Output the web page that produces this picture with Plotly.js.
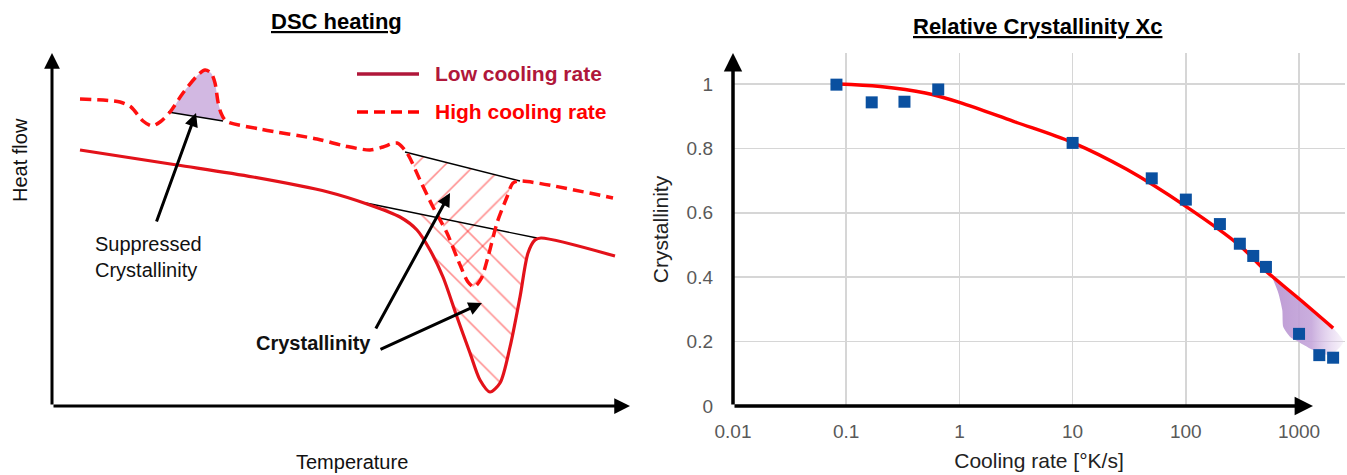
<!DOCTYPE html>
<html>
<head>
<meta charset="utf-8">
<script src="https://cdn.plot.ly/plotly-3.0.1.min.js"></script>
<style>html,body{margin:0;padding:0;background:#fff}#chart{width:1347px;height:475px}</style>
</head>
<body>
<div id="chart"></div>
<script>
// ---------- Left panel: DSC heating (schematic, arbitrary units) ----------
const lowRateT  = [28,125,201,276,315,348,365,378,391,405,418,428,438,448,458,468,476,483,489,563];
const lowRateHF = [256,241,229,214,202,189,176,156,129,89,53,26,14,23,59,109,153,166,168,150];

const highRateT  = [28,68,79,91,100,108,118,131,145,153,159,163,166,169,174,208,265,293,318,331,345,355,368,381,395,406,416,422,429,436,445,455,461,468,561];
const highRateHF = [307,304,299,285,280,284,294,313,330,336,333,323,304,293,285,277,267,260,256,259,263,253,226,199,173,146,124,119,127,149,183,209,223,225,208];

// baselines of the peaks (start, end)
const peakBaseT = [116,171],  peakBaseHF = [294,285];
const highBaseT = [353,468],  highBaseHF = [254,225];
const lowBaseT  = [314,485],  lowBaseHF  = [203,168];

// annotation arrows (tail -> tip)
const arrowTailT  = [104,323,327], arrowTailHF = [183,76,56];
const arrowTipT   = [144,398,430], arrowTipHF  = [293,213,103];

const seriesNames = ['Low cooling rate','High cooling rate'];

// ---------- Right panel: Relative crystallinity ----------
const coolingRate   = [0.082,0.168,0.327,0.65,10,50,100,200,300,394,510,1000,1510,2000];
const crystallinity = [0.998,0.943,0.945,0.983,0.817,0.707,0.641,0.565,0.504,0.466,0.432,0.224,0.158,0.150];

const fitRate = [0.085,0.2,0.5,1,3,10,30,100,300,500,1000,2000];
const fitXc   = [1.0,0.992,0.972,0.943,0.884,0.818,0.735,0.62,0.498,0.422,0.333,0.242];

const shadeRate = [581,656,711,726,837,1026,1336,1890,2460,2000,1400,1000,800];
const shadeXc   = [0.398,0.351,0.298,0.245,0.214,0.196,0.174,0.158,0.199,0.242,0.29,0.333,0.36];

const xTickVals = [0.01,0.1,1,10,100,1000];
const xTickText = ['0.01','0.1','1','10','100','1000'];
const yTickVals = [0,0.2,0.4,0.6,0.8,1];
const yTickText = ['0','0.2','0.4','0.6','0.8','1'];

// ---------- build ----------
function region(T, HF, bT, bHF){
  const xs=[bT[0]], ys=[bHF[0]];
  for(let i=0;i<T.length;i++){ if(T[i]>bT[0] && T[i]<bT[1]){ xs.push(T[i]); ys.push(HF[i]); } }
  xs.push(bT[1]); ys.push(bHF[1]);
  return {xs, ys};
}
const peakReg = region(highRateT, highRateHF, peakBaseT, peakBaseHF);
const highReg = region(highRateT, highRateHF, highBaseT, highBaseHF);
const lowReg  = region(lowRateT,  lowRateHF,  lowBaseT,  lowBaseHF);

const SOLID = '#e3121a', DASHED = '#ff1010';
const FONT = 'Liberation Sans, Arial, sans-serif';
const HATCH = {fgcolor:'#ff1c1c', bgcolor:'rgba(0,0,0,0)', size:21, solidity:0.075, fillmode:'overlay'};

const traces = [
  {x:peakReg.xs, y:peakReg.ys, type:'scatter', mode:'lines', fill:'toself', fillcolor:'#d2b8e2',
   line:{width:0, shape:'spline', smoothing:0.8}, hoverinfo:'skip', xaxis:'x', yaxis:'y'},
  {x:highReg.xs, y:highReg.ys, type:'scatter', mode:'lines', fill:'toself', fillcolor:'rgba(0,0,0,0)',
   fillpattern:Object.assign({shape:'/'}, HATCH),
   line:{width:0, shape:'spline', smoothing:0.8}, hoverinfo:'skip', xaxis:'x', yaxis:'y'},
  {x:lowReg.xs, y:lowReg.ys, type:'scatter', mode:'lines', fill:'toself', fillcolor:'rgba(0,0,0,0)',
   fillpattern:Object.assign({shape:'\\'}, HATCH),
   line:{width:0, shape:'spline', smoothing:0.8}, hoverinfo:'skip', xaxis:'x', yaxis:'y'},
  {x:peakBaseT, y:peakBaseHF, type:'scatter', mode:'lines', line:{color:'#000', width:1.3}, xaxis:'x', yaxis:'y'},
  {x:highBaseT, y:highBaseHF, type:'scatter', mode:'lines', line:{color:'#000', width:1.3}, xaxis:'x', yaxis:'y'},
  {x:lowBaseT,  y:lowBaseHF,  type:'scatter', mode:'lines', line:{color:'#000', width:1.3}, xaxis:'x', yaxis:'y'},
  {name:seriesNames[0], x:lowRateT, y:lowRateHF, type:'scatter', mode:'lines',
   line:{color:SOLID, width:3.2, shape:'spline', smoothing:0.8}, xaxis:'x', yaxis:'y'},
  {name:seriesNames[1], x:highRateT, y:highRateHF, type:'scatter', mode:'lines',
   line:{color:DASHED, width:3.5, dash:'11px,6px', shape:'spline', smoothing:0.8}, xaxis:'x', yaxis:'y'},

  // right panel
  {x:shadeRate, y:shadeXc, type:'scatter', mode:'lines', fill:'toself',
   fillgradient:{type:'horizontal', colorscale:[[0,'rgba(186,150,210,0.95)'],[0.55,'rgba(196,165,218,0.9)'],[1,'rgba(225,205,238,0.25)']]},
   line:{width:0, shape:'spline', smoothing:0.6}, hoverinfo:'skip', xaxis:'x2', yaxis:'y2'},
  {name:'Fit', x:fitRate, y:fitXc, type:'scatter', mode:'lines',
   line:{color:'#ff0000', width:3.5, shape:'spline', smoothing:1}, xaxis:'x2', yaxis:'y2'},
  {name:'Measured', x:coolingRate, y:crystallinity, type:'scatter', mode:'markers',
   marker:{symbol:'square', size:12, color:'#0a50a0'}, cliponaxis:false, xaxis:'x2', yaxis:'y2'}
];

const axisArrow = (x, y, ax, ay, xr, yr, w) => ({
  x, y, ax, ay, xref:xr, yref:yr, axref:xr, ayref:yr, text:'', showarrow:true,
  arrowhead:2, arrowsize:1.05, arrowwidth:w, arrowcolor:'#000', standoff:0, startstandoff:0
});

const annotations = [];
// axis arrows
annotations.push(axisArrow(0,1,0,0,'x domain','y domain',3));
annotations.push(axisArrow(1,0,0,0,'x domain','y domain',3));
annotations.push(axisArrow(0,1,0,0,'x2 domain','y2 domain',3.5));
annotations.push(axisArrow(0.9477,0,0,0,'x2 domain','y2 domain',3.5));
// pointer arrows
for(let i=0;i<arrowTipT.length;i++){
  annotations.push({x:arrowTipT[i], y:arrowTipHF[i], ax:arrowTailT[i], ay:arrowTailHF[i],
    xref:'x', yref:'y', axref:'x', ayref:'y', text:'', showarrow:true,
    arrowhead:2, arrowsize:0.9, arrowwidth:3, arrowcolor:'#000', standoff:0, startstandoff:0});
}
// texts
annotations.push({text:'<b><u>DSC heating</u></b>', x:336/1347, y:1-22/475, xref:'paper', yref:'paper',
  showarrow:false, xanchor:'center', yanchor:'middle', font:{family:FONT, size:22, color:'#000'}});
annotations.push({text:'<b><u>Relative Crystallinity Xc</u></b>', x:1037/1347, y:1-26/475, xref:'paper', yref:'paper',
  showarrow:false, xanchor:'center', yanchor:'middle', font:{family:FONT, size:22, color:'#000'}});
annotations.push({text:'Heat flow', x:20/1347, y:1-160/475, xref:'paper', yref:'paper', textangle:-90,
  showarrow:false, xanchor:'center', yanchor:'middle', font:{family:FONT, size:20, color:'#111'}});
annotations.push({text:'Temperature', x:352/1347, y:1-462/475, xref:'paper', yref:'paper',
  showarrow:false, xanchor:'center', yanchor:'middle', font:{family:FONT, size:20, color:'#111'}});
annotations.push({text:'Suppressed<br>Crystallinity', x:41, y:149, xref:'x', yref:'y', align:'left',
  showarrow:false, xanchor:'left', yanchor:'middle', font:{family:FONT, size:20, color:'#111'}});
annotations.push({text:'<b>Crystallinity</b>', x:202, y:63, xref:'x', yref:'y',
  showarrow:false, xanchor:'left', yanchor:'middle', font:{family:FONT, size:20, color:'#111'}});
annotations.push({text:'<b>'+seriesNames[0]+'</b>', x:381, y:332, xref:'x', yref:'y',
  showarrow:false, xanchor:'left', yanchor:'middle', font:{family:FONT, size:21, color:'#b0173a'}});
annotations.push({text:'<b>'+seriesNames[1]+'</b>', x:381, y:294, xref:'x', yref:'y',
  showarrow:false, xanchor:'left', yanchor:'middle', font:{family:FONT, size:21, color:'#ff0000'}});

const shapes = [
  {type:'line', xref:'x', yref:'y', x0:305, x1:367, y0:332, y1:332, line:{color:'#b0173a', width:3.5}},
  {type:'line', xref:'x', yref:'y', x0:305, x1:367, y0:294, y1:294, line:{color:'#ff0000', width:3.5, dash:'11px,6px'}}
];

const hidden = {showgrid:false, zeroline:false, showline:false, showticklabels:false, ticks:'', fixedrange:true};

const layout = {
  width:1347, height:475, margin:{l:0,r:0,t:0,b:0}, showlegend:false,
  paper_bgcolor:'#fff', plot_bgcolor:'rgba(0,0,0,0)',
  font:{family:FONT},
  xaxis:Object.assign({domain:[52/1347, 630/1347], range:[0,578]}, hidden),
  yaxis:Object.assign({domain:[1-406/475, 1-53/475], range:[0,353]}, hidden),
  xaxis2:{type:'log', domain:[733/1347, 1345/1347], range:[-2, 3.406], anchor:'y2',
    tickvals:xTickVals, ticktext:xTickText, showgrid:true, gridcolor:'#d6d6d6', gridwidth:1.5,
    zeroline:false, showline:false, ticks:'', ticklabelstandoff:12,
    tickfont:{family:FONT, size:19, color:'#595959'},
    title:{text:'Cooling rate [°K/s]', font:{family:FONT, size:21, color:'#222'}, standoff:12}},
  yaxis2:{domain:[1-406/475, 1-53/475], range:[0, 1.0963], anchor:'x2',
    tickvals:yTickVals, ticktext:yTickText, showgrid:true, gridcolor:'#d6d6d6', gridwidth:1.5,
    zeroline:false, showline:false, ticks:'', ticklabelstandoff:19,
    tickfont:{family:FONT, size:19, color:'#595959'},
    title:{text:'Crystallinity', font:{family:FONT, size:21, color:'#222'}, standoff:12}},
  annotations, shapes
};

Plotly.newPlot('chart', traces, layout, {staticPlot:true, displayModeBar:false});
</script>
</body>
</html>
